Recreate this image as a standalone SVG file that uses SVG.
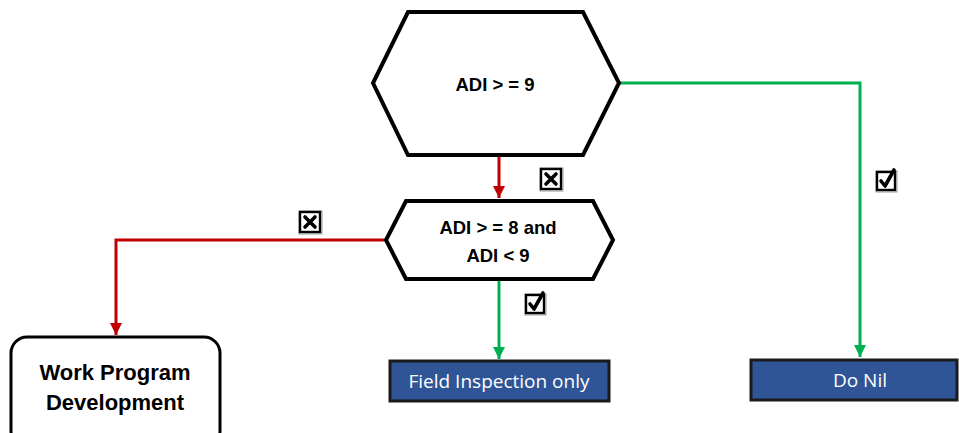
<svg xmlns="http://www.w3.org/2000/svg" width="959" height="433" viewBox="0 0 959 433">
  <style>
    .hex { fill: #ffffff; stroke: #000000; stroke-width: 4; stroke-linejoin: miter; }
    .cond { font-family: "Liberation Sans", Arial, sans-serif; font-weight: bold; font-size: 18.5px; fill: #000000; text-anchor: middle; }
    .term { fill: #ffffff; stroke: #000000; stroke-width: 3; }
    .termtext { font-family: "Liberation Sans", Arial, sans-serif; font-weight: bold; font-size: 22px; fill: #000000; text-anchor: middle; }
    .action { fill: #2F5597; stroke: #1a1a1a; stroke-width: 3; }
    .actiontext { font-family: "Open Sans", "Liberation Sans", sans-serif; font-size: 19px; fill: #ffffff; text-anchor: middle; }
    .no { fill: none; stroke: #C00000; stroke-width: 3; }
    .yes { fill: none; stroke: #00B050; stroke-width: 3; }
    .box { fill: #ffffff; stroke: #000000; stroke-width: 2.4; }
    .boxshadow { fill: none; stroke: #9a9a9a; stroke-width: 1; }
    .mark { fill: none; stroke: #000000; stroke-width: 3.6; stroke-linecap: round; stroke-linejoin: round; }
  </style>
  <defs>
    <marker id="arrRed" viewBox="0 0 10 10" refX="10" refY="5" markerWidth="4" markerHeight="4" orient="auto" markerUnits="strokeWidth">
      <path d="M0,0 L10,5 L0,10 z" fill="#C00000"/>
    </marker>
    <marker id="arrGreen" viewBox="0 0 10 10" refX="10" refY="5" markerWidth="4" markerHeight="4" orient="auto" markerUnits="strokeWidth">
      <path d="M0,0 L10,5 L0,10 z" fill="#00B050"/>
    </marker>
    <g id="boxX">
      <rect class="boxshadow" x="-11" y="-11" width="23" height="23"/>
      <rect class="box" x="-10" y="-10" width="20" height="20"/>
      <path class="mark" d="M-5,-5 L5,5 M5,-5 L-5,5"/>
    </g>
    <g id="boxCheck">
      <rect class="boxshadow" x="-10" y="-10" width="21" height="21"/>
      <rect class="box" x="-9" y="-9" width="18" height="18"/>
      <path class="mark" d="M-5,0 L-1,5 L8,-11"/>
    </g>
  </defs>

  <!-- connectors and their yes/no tick boxes -->
  <g id="connectors">
    <path class="yes" d="M619,83 H860 V357" marker-end="url(#arrGreen)"/>
    <path class="no" d="M499,157 V198" marker-end="url(#arrRed)"/>
    <path class="no" d="M386,240 H116 V335" marker-end="url(#arrRed)"/>
    <path class="yes" d="M499,281 V359" marker-end="url(#arrGreen)"/>
    <use href="#boxCheck" x="886" y="181"/>
    <use href="#boxX" x="551" y="179"/>
    <use href="#boxX" x="310" y="222"/>
    <use href="#boxCheck" x="535" y="304"/>
  </g>

  <g id="adi9">
    <polygon class="hex" points="408,12 583,12 619,83 583,155 408,155 373,83"/>
    <text class="cond" x="495" y="91" font-size="19.5">ADI &gt; = 9</text>
  </g>

  <g id="adi8">
    <polygon class="hex" points="406,201 593,201 613,240 593,279 406,279 386,240"/>
    <text class="cond" x="498" y="234">ADI &gt; = 8 and</text>
    <text class="cond" x="498" y="262">ADI &lt; 9</text>
  </g>

  <g id="workProgram">
    <rect class="term" x="11" y="337" width="209" height="110" rx="16" ry="16"/>
    <text class="termtext" x="115" y="380">Work Program</text>
    <text class="termtext" x="115" y="410">Development</text>
  </g>

  <g id="fieldInspection">
    <rect class="action" x="390" y="361" width="219" height="40"/>
    <text class="actiontext" x="499" y="388">Field Inspection only</text>
  </g>

  <g id="doNil">
    <rect class="action" x="751" y="360" width="206" height="40"/>
    <text class="actiontext" x="860" y="387">Do Nil</text>
  </g>
</svg>
